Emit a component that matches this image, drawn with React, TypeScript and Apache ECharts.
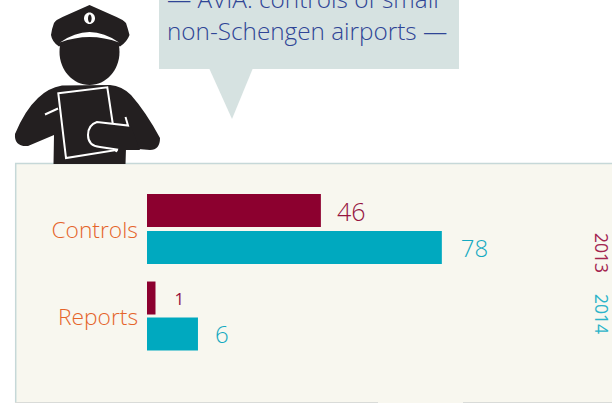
import React, { useEffect, useRef } from "react";
import * as echarts from "echarts";

const categories = ["Controls", "Reports"];
const years = ["2013", "2014"];
const values2013 = [46, 1];
const values2014 = [78, 6];
const bubbleLines = ["— AVIA: controls of small", "non-Schengen airports —"];

const DARK = "#231f20";
const MAROON = "#8c002f";
const TEAL = "#00a9bf";
const ORANGE = "#e5642a";
const BLUE = "#2f4596";
const PANEL = "#f8f7ef";
const BUBBLE = "#d6e2e1";
const FONT = "'Open Sans', sans-serif";

echarts.graphic.registerShape("copHat", echarts.graphic.extendPath(
  "M89.5 5 L112 15 Q124 20 126 23 Q128 29 129.5 35 Q127 42 120 46.5 Q89 31 59 46.5 Q52 42 51 35 Q52 28 54 23 Q55 20 67 15 Z", {}));
const hatBandPath = "M60 42.5 Q89.5 21.5 119 42.5 Q89.5 31.5 60 42.5 Z";
echarts.graphic.registerShape("copBand", echarts.graphic.extendPath(hatBandPath, {}));
echarts.graphic.registerShape("copBody", echarts.graphic.extendPath(
  "M53.5 164 L54 135 L28 146 Q14 147 15 134 Q25 110 38 98 Q48 88 62 85.5 L110 85 Q122 86 131 95 Q146 112 160 138 Q160 150 150 150 L126 148 L125.5 164 Z", {}));
echarts.graphic.registerShape("copArm", echarts.graphic.extendPath(
  "M125 117 L131 126 L140 150 L112 150 L100 147 Q88 146 88 135 Q88 125 97 122 L128 126 Z", {}));
echarts.graphic.registerShape("copArmLine", echarts.graphic.extendPath(
  "M125.5 117 L128 125.5 L97 122 Q88 125 88 135 Q88 146 100 147 L117 149.5 L116 152", {}));

function panelLine(x1: number, y1: number, x2: number, y2: number, stroke: string, lineWidth: number) {
  return { type: "line", shape: { x1, y1, x2, y2 }, style: { stroke, lineWidth }, silent: true, z: 1 };
}

function buildOption() {
  const grids = [
    { left: 147, width: 453.6, top: 190, height: 78 },
    { left: 147, width: 453.6, top: 277, height: 78 },
  ];
  const axisMax = [120, 53.4];
  const gaps = ["12%", "9%"];
  const labelStyle = [
    [{ fontSize: 25, weight: 300, distance: 16 }, { fontSize: 24, weight: 300, distance: 19 }],
    [{ fontSize: 17, weight: 400, distance: 19 }, { fontSize: 24, weight: 300, distance: 17 }],
  ];
  const series: any[] = [];
  categories.forEach((_, i) => {
    [values2013, values2014].forEach((vals, j) => {
      series.push({
        type: "bar",
        name: years[j],
        xAxisIndex: i,
        yAxisIndex: i,
        data: [vals[i]],
        barWidth: 33,
        barGap: gaps[i],
        itemStyle: { color: j === 0 ? MAROON : TEAL },
        label: {
          show: true,
          position: "right",
          distance: labelStyle[i][j].distance,
          fontFamily: FONT,
          fontWeight: labelStyle[i][j].weight,
          fontSize: labelStyle[i][j].fontSize,
          color: j === 0 ? "#96143f" : "#14aac1",
        },
      });
    });
  });
  const textBase = { fontFamily: FONT, verticalAlign: "middle" };
  return {
    animation: false,
    backgroundColor: "#ffffff",
    grid: grids,
    xAxis: axisMax.map((max, i) => ({
      type: "value", gridIndex: i, min: 0, max, show: false,
    })),
    yAxis: categories.map((c, i) => ({
      type: "category",
      gridIndex: i,
      data: [c],
      inverse: true,
      axisLine: { show: false },
      axisTick: { show: false },
      axisLabel: { margin: 9, color: ORANGE, fontFamily: FONT, fontWeight: 300, fontSize: 22.8 },
    })),
    series,
    graphic: [
      // panel
      { type: "rect", shape: { x: 15, y: 163, width: 600, height: 240 }, style: { fill: PANEL }, silent: true, z: 0 },
      panelLine(15, 163.5, 612, 163.5, "#c6d8d8", 1.5),
      panelLine(15.7, 163, 15.7, 403, "#c6d8d8", 1.5),
      panelLine(15, 402.5, 378, 402.5, "#d9dbd8", 1),
      panelLine(463, 402.5, 612, 402.5, "#d9dbd8", 1),
      // speech bubble
      { type: "rect", shape: { x: 159, y: 0, width: 300, height: 69 }, style: { fill: BUBBLE }, silent: true, z: 1 },
      { type: "polygon", shape: { points: [[209, 68], [253, 68], [232, 119]] }, style: { fill: BUBBLE }, silent: true, z: 1 },
      { type: "text", x: 167, y: -2, style: { ...textBase, fontWeight: 300, text: bubbleLines[0], fill: BLUE, fontSize: 24.3 }, silent: true, z: 3 },
      { type: "text", x: 167, y: 30, style: { ...textBase, fontWeight: 300, text: bubbleLines[1], fill: BLUE, fontSize: 24.3 }, silent: true, z: 3 },
      // figure
      { type: "copBody", style: { fill: DARK }, silent: true, z: 3 },
      { type: "polygon", shape: { points: [[58.3, 93.3], [107.3, 87.3], [116.7, 150], [66, 158]] }, style: { fill: DARK, stroke: "#ffffff", lineWidth: 2 }, silent: true, z: 4 },
      { type: "copArm", style: { fill: DARK }, silent: true, z: 5 },
      { type: "copArmLine", style: { fill: "none", stroke: "#ffffff", lineWidth: 2 }, silent: true, z: 6 },
      { type: "line", shape: { x1: 45, y1: 114.5, x2: 58, y2: 108.5 }, style: { stroke: "#ffffff", lineWidth: 2 }, silent: true, z: 4 },
      { type: "ellipse", shape: { cx: 89.5, cy: 52, rx: 30, ry: 33 }, style: { fill: DARK }, silent: true, z: 5 },
      { type: "copHat", style: { fill: DARK }, silent: true, z: 6 },
      { type: "copBand", style: { fill: "#ffffff" }, silent: true, z: 7 },
      { type: "ellipse", shape: { cx: 89.5, cy: 18.3, rx: 5.5, ry: 5.8 }, style: { fill: "#ffffff" }, silent: true, z: 7 },
      { type: "ellipse", shape: { cx: 89.8, cy: 18.5, rx: 1.8, ry: 4 }, style: { fill: DARK }, silent: true, z: 8 },
      // legend
      { type: "text", x: 602, y: 253, rotation: -Math.PI / 2, style: { ...textBase, text: years[0], fill: "#a3254f", fontSize: 17.5, align: "center" }, silent: true, z: 3 },
      { type: "text", x: 602, y: 314, rotation: -Math.PI / 2, style: { ...textBase, text: years[1], fill: "#2cb4c9", fontSize: 17.5, align: "center" }, silent: true, z: 3 },
    ],
  };
}

export default function App() {
  const ref = useRef<HTMLDivElement>(null);
  useEffect(() => {
    const chart = echarts.init(ref.current!, null, { renderer: "svg" });
    chart.setOption(buildOption() as any);
    return () => chart.dispose();
  }, []);
  return <div ref={ref} style={{ position: "absolute", left: 0, top: 0, width: 612, height: 403 }} />;
}
